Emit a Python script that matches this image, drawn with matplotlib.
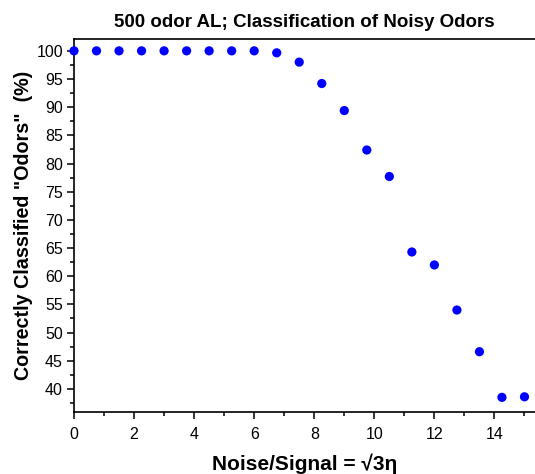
import numpy as np
import matplotlib
matplotlib.use("Agg")
import matplotlib.pyplot as plt
from matplotlib.ticker import MultipleLocator

plt.rcParams['font.family'] = ['Liberation Sans', 'DejaVu Sans']

# noise/signal levels and % correctly classified
noise = [0, 0.75, 1.5, 2.25, 3, 3.75, 4.5, 5.25, 6, 6.75, 7.5,
         8.25, 9, 9.75, 10.5, 11.25, 12, 12.75, 13.5, 14.25, 15]
correct = [100, 100, 100, 100, 100, 100, 100, 100, 100, 99.65, 98.0,
           94.2, 89.4, 82.4, 77.7, 64.3, 62.0, 54.0, 46.6, 38.5, 38.6]

fig = plt.figure(figsize=(5.35, 4.74), dpi=100)
ax = fig.add_axes([0.1383, 0.1308, 0.8617, 0.7869])

ax.scatter(noise, correct, s=44, color='#0000ff', edgecolors='none', zorder=3, clip_on=False)

ax.set_xlim(0, 15.35)
ax.set_ylim(35.9, 102.1)
ax.xaxis.set_major_locator(MultipleLocator(2))
ax.xaxis.set_minor_locator(MultipleLocator(1))
ax.yaxis.set_major_locator(MultipleLocator(5))
ax.yaxis.set_minor_locator(MultipleLocator(2.5))

ax.tick_params(which='both', direction='out', width=1.1, labelsize=11.5, pad=3)
ax.tick_params(which='major', length=5)
ax.tick_params(which='minor', length=3)
ax.tick_params(axis='x', pad=6)

for side in ['left', 'bottom', 'top']:
    ax.spines[side].set_linewidth(1.2)
ax.spines['right'].set_visible(False)

ax.set_title('500 odor AL; Classification of Noisy Odors', fontsize=13.5, weight='bold', pad=9)
ax.set_xlabel('Noise/Signal = \u221a3\u03b7', fontsize=15, weight='bold', labelpad=8)
ax.set_ylabel('Correctly Classified "Odors"  (%)', fontsize=14.2, weight='bold', labelpad=2)

fig.savefig('out.png', dpi=100)
